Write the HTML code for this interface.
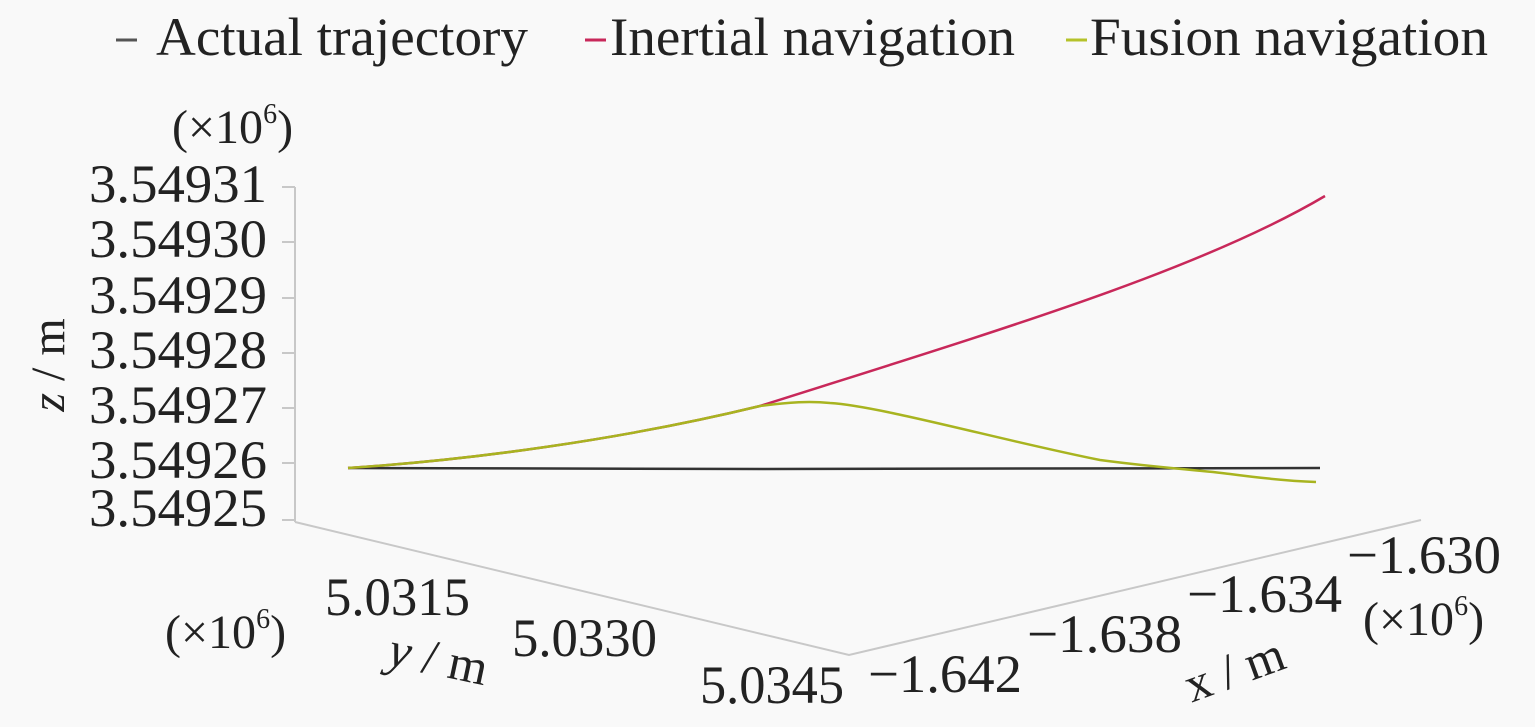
<!DOCTYPE html>
<html><head><style>
body{margin:0;background:#f9f9f9;}
svg{display:block;font-family:"Liberation Serif",serif;}
</style></head><body>
<svg width="1535" height="727" viewBox="0 0 1535 727">
<rect width="1535" height="727" fill="#f9f9f9"/>
<g font-size="54" fill="#222">
<text x="156" y="55" textLength="372" lengthAdjust="spacingAndGlyphs">Actual trajectory</text>
<text x="610" y="55" textLength="405" lengthAdjust="spacingAndGlyphs">Inertial navigation</text>
<text x="1090" y="55" textLength="398" lengthAdjust="spacingAndGlyphs">Fusion navigation</text>
</g>
<line x1="116" y1="40" x2="137" y2="40" stroke="#555" stroke-width="3"/>
<line x1="585" y1="40" x2="606" y2="40" stroke="#c8285a" stroke-width="3"/>
<line x1="1066" y1="40" x2="1087" y2="40" stroke="#b5c22a" stroke-width="3"/>
<g stroke="#c8c8c8" stroke-width="2" fill="none">
<line x1="295" y1="187" x2="295" y2="522"/>
<polyline points="295,522 849,655 1421,520"/>
<line x1="282" y1="187" x2="295" y2="187"/><line x1="282" y1="242" x2="295" y2="242"/>
<line x1="282" y1="298" x2="295" y2="298"/><line x1="282" y1="353" x2="295" y2="353"/>
<line x1="282" y1="408" x2="295" y2="408"/><line x1="282" y1="463" x2="295" y2="463"/>
<line x1="282" y1="520" x2="295" y2="520"/>
</g>
<g font-size="54" fill="#222">
<text x="89" y="202" textLength="178" lengthAdjust="spacingAndGlyphs">3.54931</text>
<text x="89" y="257" textLength="178" lengthAdjust="spacingAndGlyphs">3.54930</text>
<text x="89" y="313" textLength="178" lengthAdjust="spacingAndGlyphs">3.54929</text>
<text x="89" y="368" textLength="178" lengthAdjust="spacingAndGlyphs">3.54928</text>
<text x="89" y="423" textLength="178" lengthAdjust="spacingAndGlyphs">3.54927</text>
<text x="89" y="478" textLength="178" lengthAdjust="spacingAndGlyphs">3.54926</text>
<text x="89" y="526" textLength="178" lengthAdjust="spacingAndGlyphs">3.54925</text>
</g>
<text x="172" y="143" font-size="48" fill="#222">(×10<tspan font-size="28" dy="-20">6</tspan><tspan dy="20">)</tspan></text>
<text transform="translate(64,365) rotate(-90)" font-size="48" fill="#222" text-anchor="middle"><tspan font-style="italic">z</tspan> / m</text>
<path d="M348,468 L765,469 L1320,468" stroke="#333" stroke-width="2.5" fill="none"/>
<path d="M348,468 C470,460 620,440 760,406 C1000,330 1200,270 1325,196" stroke="#c8285a" stroke-width="2.5" fill="none"/>
<path d="M348,468 C470,460 620,440 760,406 C790,402 810,401 830,403 C880,406 1000,440 1100,460 C1160,468 1200,470 1230,474 C1260,478 1290,481 1316,482" stroke="#a8b420" stroke-width="2.5" fill="none"/>
<g font-size="54" fill="#222">
<text x="325" y="615" textLength="145" lengthAdjust="spacingAndGlyphs">5.0315</text>
<text x="512" y="656" textLength="145" lengthAdjust="spacingAndGlyphs">5.0330</text>
<text x="700" y="703" textLength="144" lengthAdjust="spacingAndGlyphs">5.0345</text>
<text x="868" y="692" textLength="154" lengthAdjust="spacingAndGlyphs">−1.642</text>
<text x="1027" y="652" textLength="155" lengthAdjust="spacingAndGlyphs">−1.638</text>
<text x="1187" y="612" textLength="155" lengthAdjust="spacingAndGlyphs">−1.634</text>
<text x="1347" y="573" textLength="154" lengthAdjust="spacingAndGlyphs">−1.630</text>
</g>
<text x="1363" y="635" font-size="48" fill="#222">(×10<tspan font-size="28" dy="-20">6</tspan><tspan dy="20">)</tspan></text>
<text x="165" y="648" font-size="48" fill="#222">(×10<tspan font-size="28" dy="-20">6</tspan><tspan dy="20">)</tspan></text>
<text transform="translate(435,675) rotate(12)" font-size="50" fill="#222" text-anchor="middle"><tspan font-style="italic">y</tspan> / m</text>
<text transform="translate(1240,685) rotate(-20)" font-size="50" fill="#222" text-anchor="middle">x / m</text>
</svg>
</body></html>
